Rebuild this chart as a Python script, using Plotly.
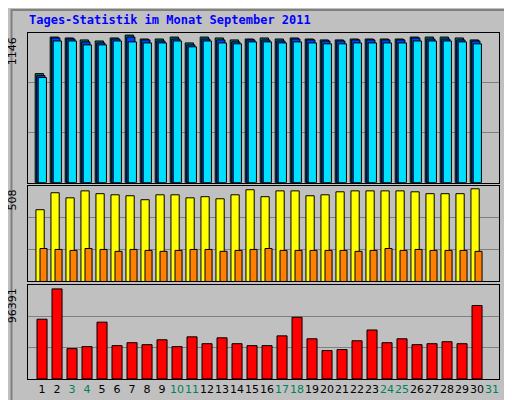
import plotly.graph_objects as go

days = list(range(1, 32))
weekend = [3, 4, 10, 11, 17, 18, 24, 25, 31]

# Tagesdaten (30 Tage mit Werten, Tag 31 leer)
anfragen = [835, 1115, 1108, 1093, 1085, 1108, 1130, 1100, 1100, 1115, 1070, 1115, 1108, 1093, 1100,
            1108, 1100, 1108, 1100, 1093, 1093, 1100, 1100, 1100, 1100, 1115, 1115, 1115, 1108, 1093]
dateien = [820, 1108, 1100, 1078, 1070, 1100, 1115, 1093, 1085, 1100, 1055, 1100, 1093, 1078, 1093,
           1093, 1085, 1100, 1093, 1085, 1085, 1093, 1093, 1093, 1093, 1108, 1100, 1100, 1093, 1085]
seiten = [805, 1085, 1085, 1055, 1055, 1085, 1078, 1070, 1070, 1085, 1040, 1085, 1070, 1063, 1078,
          1078, 1070, 1078, 1070, 1063, 1063, 1070, 1070, 1070, 1070, 1085, 1085, 1085, 1078, 1063]
besuche = [381, 471, 444, 481, 466, 460, 455, 434, 460, 460, 444, 450, 439, 460, 487,
           450, 481, 481, 455, 460, 476, 481, 481, 481, 481, 476, 466, 466, 466, 492]
rechner = [175, 170, 165, 175, 170, 160, 170, 165, 160, 165, 170, 170, 160, 165, 170,
           175, 165, 165, 165, 165, 165, 160, 165, 175, 165, 170, 165, 165, 165, 160]
kb = [61000, 92000, 31000, 33000, 58000, 34000, 37000, 35000, 40000, 33000, 43000, 36000, 42000, 36000, 34000,
      34000, 44000, 63000, 41000, 29000, 30000, 39000, 50000, 37000, 41000, 35000, 36000, 38000, 36000, 75000]
max_hits, max_visits, max_kb = 1146, 508, 96391

x = days[:30]
line = dict(color="black", width=1)
fig = go.Figure()

# Panel 1: Anfragen / Dateien / Seiten
fig.add_bar(x=x, y=anfragen, width=0.55, offset=-0.45, marker=dict(color="#00805c", line=line), yaxis="y")
fig.add_bar(x=x, y=dateien, width=0.55, offset=-0.35, marker=dict(color="#0040ff", line=line), yaxis="y")
fig.add_bar(x=x, y=seiten, width=0.55, offset=-0.25, marker=dict(color="#00e0ff", line=line), yaxis="y")
# Panel 2: Besuche / Rechner
fig.add_bar(x=x, y=besuche, width=0.55, offset=-0.4, marker=dict(color="#ffff00", line=line), xaxis="x2", yaxis="y2")
fig.add_bar(x=x, y=rechner, width=0.47, offset=-0.13, marker=dict(color="#ff8000", line=line), xaxis="x2", yaxis="y2")
# Panel 3: kb
fig.add_bar(x=x, y=kb, width=0.67, offset=-0.33, marker=dict(color="#ff0000", line=line), xaxis="x3", yaxis="y3")

ticktext = [f'<span style="color:#00805c">{d}</span>' if d in weekend else str(d) for d in days]
xrange = [0.07, 31.47]
ax = dict(range=xrange, showgrid=False, zeroline=False, showline=True, mirror=True,
          linecolor="black", linewidth=1, fixedrange=True)
yax = dict(showline=True, mirror=True, linecolor="black", linewidth=1, zeroline=False,
           showticklabels=False, gridcolor="#808080", gridwidth=1)

fig.update_layout(
    width=512, height=400, showlegend=False, barmode="overlay",
    paper_bgcolor="#c0c0c0", plot_bgcolor="#c0c0c0",
    margin=dict(l=20, r=21, t=25, b=22),
    font=dict(family="DejaVu Sans", size=11, color="black"),
    xaxis=dict(ax, showticklabels=False, anchor="y"),
    xaxis2=dict(ax, showticklabels=False, anchor="y2"),
    xaxis3=dict(ax, anchor="y3", tickvals=days, ticktext=ticktext, ticks="", tickangle=0,
                tickfont=dict(size=11)),
    yaxis=dict(yax, domain=[0.57, 1.0], range=[0, max_hits], tickvals=[max_hits / 3, 2 * max_hits / 3]),
    yaxis2=dict(yax, domain=[0.286, 0.561], range=[0, max_visits], tickvals=[max_visits / 3, 2 * max_visits / 3]),
    yaxis3=dict(yax, domain=[0.006, 0.277], range=[0, max_kb], tickvals=[max_kb / 3, 2 * max_kb / 3]),
)

# 3D-Rahmen
fig.add_shape(type="rect", xref="paper", yref="paper", x0=-0.035, x1=1.04, y0=-0.058, y1=1.066,
              line=dict(color="#808080", width=2), layer="below")

fig.add_annotation(text="<b>Tages-Statistik im Monat September 2011</b>", xref="paper", yref="paper",
                   x=-0.003, y=1.037, xanchor="left", yanchor="middle", showarrow=False,
                   font=dict(family="DejaVu Sans Mono", size=12, color="#0000ff"))

left = [("1146", 1.0), ("508", 0.561), ("96391", 0.277)]
for txt, yy in left:
    fig.add_annotation(text=txt, xref="paper", yref="paper", x=-0.015, y=yy - 0.005, xanchor="right",
                       yanchor="top", textangle=-90, showarrow=False, font=dict(size=11))

# rechte Beschriftungen, Wort fuer Wort von unten nach oben
right = [
    [("Anfragen", "#00805c"), ("/", "black"), ("Dateien", "#0040ff"), ("/", "black"), ("Seiten", "#00e0ff")],
    [("Besuche", "#e0e000"), ("/", "black"), ("Rechner", "#ff8000")],
    [("kb", "#ff0000")],
]
tops = [1.0, 0.561, 0.277]
char_h = 7.0 / 353
for words, top in zip(right, tops):
    yy = top if len(words) > 1 else 0.006 + char_h * 3
    for word, col in words:
        fig.add_annotation(text=word, xref="paper", yref="paper", x=1.006, y=yy, xanchor="left",
                           yanchor="top", textangle=90, showarrow=False,
                           font=dict(family="DejaVu Sans Mono", size=11, color=col))
        yy -= char_h * (len(word) + 1)

fig.write_html("out.html")
